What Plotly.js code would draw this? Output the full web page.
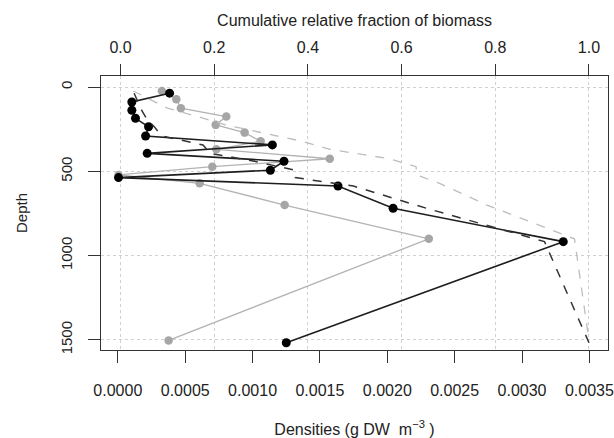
<!DOCTYPE html>
<html>
<head>
<meta charset="utf-8">
<script src="https://cdn.plot.ly/plotly-3.0.1.min.js"></script>
<style>html,body{margin:0;padding:0;background:#fff;}#chart{width:614px;height:438px;}</style>
</head>
<body>
<div id="chart"></div>
<script>
// Series 1 (black): densities by depth
var depthBlack = [36, 88, 137, 185, 235, 290, 343, 393, 440, 493, 537, 587, 719, 917, 1517];
var densBlack  = [0.000384, 0.000104, 0.000104, 0.000131, 0.000228, 0.000206, 0.001147, 0.000218, 0.001233, 0.001132, 0.000005, 0.001634, 0.002043, 0.003306, 0.00125];
// Series 2 (grey): densities by depth
var depthGray = [23, 72, 125, 175, 224, 270, 321, 369, 425, 472, 521, 571, 700, 900, 1503];
var densGray  = [0.000327, 0.000434, 0.000468, 0.000805, 0.000726, 0.000941, 0.00106, 0.000731, 0.001573, 0.000701, 0.000005, 0.000607, 0.001238, 0.002308, 0.000377];
// Cumulative relative fraction of biomass (top axis)
var cumBlack = [0.029, 0.037, 0.045, 0.055, 0.072, 0.088, 0.176, 0.192, 0.286, 0.372, 0.373, 0.497, 0.653, 0.905, 1.0];
var cumGray  = [0.027, 0.062, 0.100, 0.165, 0.224, 0.301, 0.387, 0.447, 0.574, 0.631, 0.632, 0.681, 0.782, 0.969, 1.0];
// Tick values
var densTicks  = [0, 0.0005, 0.001, 0.0015, 0.002, 0.0025, 0.003, 0.0035];
var fracTicks  = [0, 0.2, 0.4, 0.6, 0.8, 1.0];
var depthTicks = [0, 500, 1000, 1500];

var FONT = 'Liberation Sans, Arial, sans-serif';
var traces = [
  {x: cumGray, y: depthGray, xaxis: 'x2', yaxis: 'y', mode: 'lines',
   line: {color: '#bdbdbd', width: 1.3, dash: 'dash'}, hoverinfo: 'skip'},
  {x: cumBlack, y: depthBlack, xaxis: 'x2', yaxis: 'y', mode: 'lines',
   line: {color: '#333333', width: 1.5, dash: 'dash'}, hoverinfo: 'skip'},
  {x: densGray, y: depthGray, xaxis: 'x', yaxis: 'y', mode: 'lines+markers',
   line: {color: '#b3b3b3', width: 1.3}, marker: {color: '#a6a6a6', size: 8.5}},
  {x: densBlack, y: depthBlack, xaxis: 'x', yaxis: 'y', mode: 'lines+markers',
   line: {color: '#1e1e1e', width: 1.6}, marker: {color: '#000000', size: 9}}
];

var layout = {
  width: 614, height: 438,
  margin: {l: 101, r: 6, t: 76, b: 88},
  paper_bgcolor: '#ffffff', plot_bgcolor: '#ffffff',
  showlegend: false,
  font: {family: FONT, size: 15, color: '#222'},
  xaxis: {
    range: [-0.000125, 0.003638],
    tickvals: densTicks, tickformat: '.4f',
    ticks: 'outside', ticklen: 12, tickcolor: '#333', tickwidth: 1,
    ticklabelstandoff: 14,
    showline: true, linecolor: '#333', linewidth: 1, mirror: true,
    showgrid: false, zeroline: false,
    tickfont: {family: FONT, size: 16, color: '#222'},
    title: {text: 'Densities (g DW  m<sup>−3</sup> )', font: {family: FONT, size: 16, color: '#222'}, standoff: 26}
  },
  xaxis2: {
    overlaying: 'x', side: 'top', anchor: 'y',
    range: [-0.0417, 1.0406],
    tickvals: fracTicks, tickformat: '.1f',
    ticks: 'outside', ticklen: 11, tickcolor: '#333', tickwidth: 1,
    ticklabelstandoff: 5,
    showline: false,
    showgrid: true, gridcolor: '#d0d0d0', griddash: 'dot', gridwidth: 1,
    zeroline: false,
    tickfont: {family: FONT, size: 16, color: '#222'},
    title: {text: 'Cumulative relative fraction of biomass', font: {family: FONT, size: 16, color: '#222'}, standoff: 7}
  },
  yaxis: {
    range: [1560, -66],
    tickvals: depthTicks,
    ticks: 'outside', ticklen: 12, tickcolor: '#333', tickwidth: 1,
    tickangle: -90, ticklabelstandoff: 10,
    showline: true, linecolor: '#333', linewidth: 1, mirror: true,
    showgrid: true, gridcolor: '#d0d0d0', griddash: 'dot', gridwidth: 1,
    zeroline: false,
    tickfont: {family: FONT, size: 15, color: '#222'},
    title: {text: 'Depth', font: {family: FONT, size: 15, color: '#222'}, standoff: 26}
  }
};

Plotly.newPlot('chart', traces, layout, {displayModeBar: false, staticPlot: true});
</script>
</body>
</html>
